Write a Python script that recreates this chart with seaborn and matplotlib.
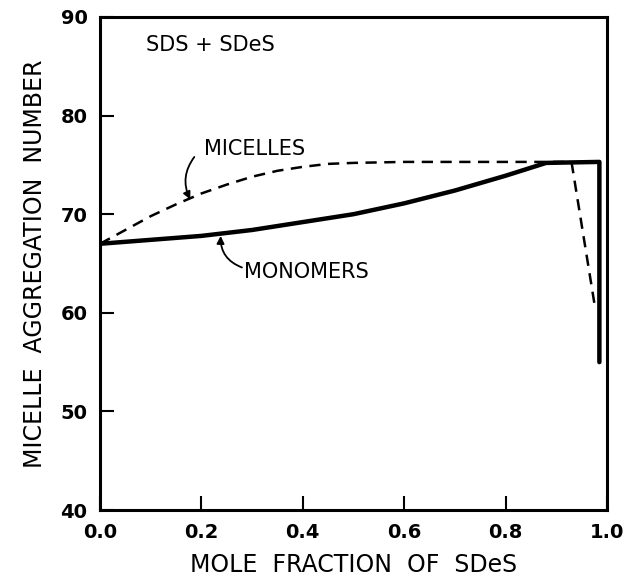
import matplotlib
matplotlib.use("Agg")
import matplotlib.pyplot as plt
import seaborn as sns
import pandas as pd

# Data
micelles_x = [0.0, 0.05, 0.10, 0.15, 0.20, 0.25, 0.30, 0.35, 0.40, 0.45, 0.50, 0.60, 0.70, 0.80, 0.93, 0.975]
micelles_y = [67.0, 68.4, 69.8, 71.0, 72.1, 73.0, 73.8, 74.4, 74.8, 75.1, 75.2, 75.3, 75.3, 75.3, 75.3, 61.0]
monomers_x = [0.0, 0.10, 0.20, 0.30, 0.40, 0.50, 0.60, 0.70, 0.80, 0.88, 0.985, 0.985]
monomers_y = [67.0, 67.4, 67.8, 68.4, 69.2, 70.0, 71.1, 72.4, 73.9, 75.2, 75.3, 55.0]
x_ticks = [0.0, 0.2, 0.4, 0.6, 0.8, 1.0]
x_tick_labels = ["0.0", "0.2", "0.4", "0.6", "0.8", "1.0"]
y_ticks = [40, 50, 60, 70, 80, 90]

sns.set_style("ticks")
plt.rcParams['font.family'] = ['DejaVu Sans']
plt.rcParams['text.color'] = 'black'
plt.rcParams['axes.labelcolor'] = 'black'
plt.rcParams['xtick.color'] = 'black'
plt.rcParams['ytick.color'] = 'black'
plt.rcParams['axes.edgecolor'] = 'black'

fig = plt.figure(figsize=(6.29, 5.83), dpi=100)
ax = fig.add_axes([0.159, 0.125, 0.806, 0.846])

mic = pd.DataFrame({"x": micelles_x, "y": micelles_y})
mon = pd.DataFrame({"x": monomers_x, "y": monomers_y})
sns.lineplot(data=mic, x="x", y="y", ax=ax, color="black", lw=1.8,
             linestyle=(0, (4.5, 3.0)), sort=False, estimator=None)
sns.lineplot(data=mon, x="x", y="y", ax=ax, color="black", lw=3.2,
             sort=False, estimator=None)

ax.set_xlim(0, 1.0)
ax.set_ylim(40, 90)
ax.set_xticks(x_ticks)
ax.set_xticklabels(x_tick_labels)
ax.set_yticks(y_ticks)
ax.tick_params(direction="in", length=10, width=1.5, labelsize=14, pad=9)
for lab in ax.get_xticklabels() + ax.get_yticklabels():
    lab.set_fontweight("bold")
for s in ax.spines.values():
    s.set_linewidth(2.2)
    s.set_visible(True)

ax.set_xlabel("MOLE  FRACTION  OF  SDeS", fontsize=17, labelpad=8)
ax.set_ylabel("MICELLE  AGGREGATION  NUMBER", fontsize=17, labelpad=10)

ax.text(0.09, 87.2, "SDS + SDeS", fontsize=15, ha="left", va="center")
ax.text(0.205, 76.6, "MICELLES", fontsize=15, ha="left", va="center")
ax.text(0.285, 64.1, "MONOMERS", fontsize=15, ha="left", va="center")
ax.annotate("", xy=(0.178, 71.5), xytext=(0.186, 75.8),
            arrowprops=dict(arrowstyle="-|>", color="black", lw=1.3,
                            connectionstyle="arc3,rad=0.3",
                            shrinkA=0, shrinkB=0, mutation_scale=11))
ax.annotate("", xy=(0.238, 67.8), xytext=(0.28, 64.6),
            arrowprops=dict(arrowstyle="-|>", color="black", lw=1.3,
                            connectionstyle="arc3,rad=-0.35",
                            shrinkA=0, shrinkB=0, mutation_scale=11))

fig.savefig("out.png", dpi=100)
